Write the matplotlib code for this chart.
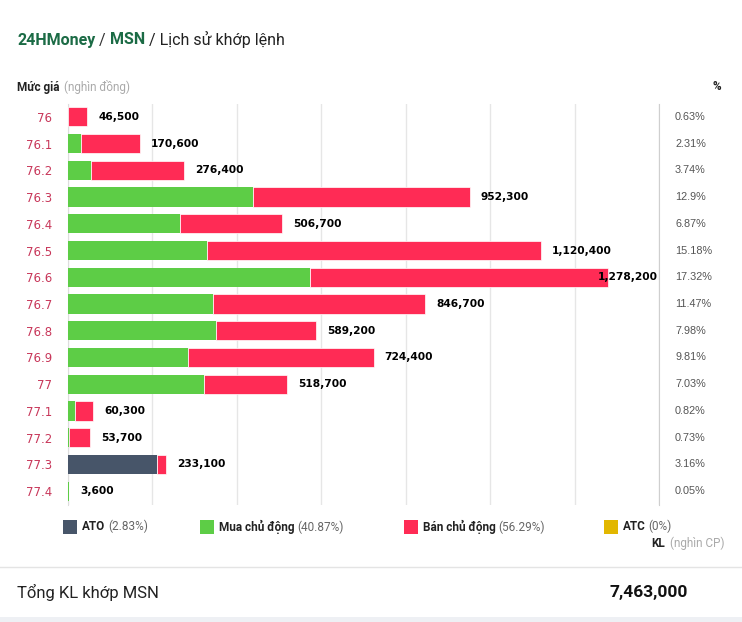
import matplotlib
matplotlib.use('Agg')
from matplotlib import pyplot as plt
from matplotlib.patches import Rectangle
from matplotlib.transforms import blended_transform_factory

# price levels (nghìn đồng) and matched volume split by side
prices = ['76', '76.1', '76.2', '76.3', '76.4', '76.5', '76.6', '76.7',
          '76.8', '76.9', '77', '77.1', '77.2', '77.3', '77.4']
totals = [46500, 170600, 276400, 952300, 506700, 1120400, 1278200, 846700,
          589200, 724400, 518700, 60300, 53700, 233100, 3600]
ato = [0, 0, 0, 0, 0, 0, 0, 0, 0, 0, 0, 0, 0, 211200, 0]
mua = [0, 31000, 56000, 438000, 267000, 331000, 575000, 345000,
       352000, 286000, 322000, 18000, 3000, 0, 3600]
ban = [t - m - a for t, m, a in zip(totals, mua, ato)]
pct_labels = ['0.63%', '2.31%', '3.74%', '12.9%', '6.87%', '15.18%', '17.32%',
              '11.47%', '7.98%', '9.81%', '7.03%', '0.82%', '0.73%', '3.16%', '0.05%']

legend_names = ['ATO', 'Mua chủ động', 'Bán chủ động', 'ATC']
legend_pcts = ['(2.83%)', '(40.87%)', '(56.29%)', '(0%)']
total_kl = 7463000

c_ato = '#475569'
c_mua = '#5dcd46'
c_ban = '#ff2b55'
c_atc = '#e2b700'
c_green = '#1b6b45'
c_price = '#c8375a'

W, H = 742, 622
fig = plt.figure(figsize=(W / 100, H / 100), dpi=100)
fig.patch.set_facecolor('white')


def fx(px):
    return px / W


def fy(py):
    return 1 - py / H


ax = fig.add_axes([fx(67.5), fy(504.5), (659 - 67.5) / W, 401 / H])
y = list(range(len(prices)))
h = 0.72
ax.barh(y, ato, height=h, color=c_ato, linewidth=0, zorder=3)
ax.barh(y, mua, left=ato, height=h, color=c_mua, linewidth=0, zorder=3)
left_ban = [a + m for a, m in zip(ato, mua)]
# white edge on the red part gives the thin gap between segments
ax.barh(y, ban, left=left_ban, height=h, color=c_ban, edgecolor='white', linewidth=0.5, zorder=3)

xmax = 1400000
ax.set_xlim(0, xmax)
ax.set_ylim(len(prices) - 0.5, -0.5)
ax.set_xticks(range(0, xmax + 1, 200000))
ax.tick_params(axis='x', length=0, labelbottom=False)
ax.grid(axis='x', color='#e6e6e6', linewidth=1, zorder=0)
ax.set_yticks(y)
ax.set_yticklabels(prices)
ax.tick_params(axis='y', length=0, pad=11, labelcolor=c_price, labelsize=8.5)
for s in ['top', 'bottom']:
    ax.spines[s].set_visible(False)
ax.spines['left'].set_color('#dddddd')
ax.spines['right'].set_color('#cfcfcf')

# total volume labels
for i, t in enumerate(totals):
    if t / xmax > 0.85:
        ax.annotate(f'{t:,}', xy=(xmax, i), xytext=(-1, 0), textcoords='offset points',
                    ha='right', va='center', fontsize=7.7, fontweight='bold', zorder=4)
    else:
        ax.annotate(f'{t:,}', xy=(t, i), xytext=(8, 0), textcoords='offset points',
                    ha='left', va='center', fontsize=7.7, fontweight='bold', zorder=4)

# percentage column
tr = blended_transform_factory(ax.transAxes, ax.transData)
for i, p in enumerate(pct_labels):
    ax.text((675 - 67.5) / 591.5, i, p, transform=tr, ha='left', va='center',
            fontsize=7.8, color='#555555', family='Liberation Sans')


def chain(prev, text, **kw):
    # place a text right after another one
    return ax.annotate(text, xy=(1, 0), xycoords=prev, xytext=(kw.pop('gap', 0), 0),
                       textcoords='offset points', ha='left', va='bottom',
                       annotation_clip=False, **kw)


# title
tf = 'Roboto'
t1 = fig.text(fx(17), fy(40), '24HMoney', fontsize=11.5, fontweight='bold',
              color=c_green, family=tf, va='center')
t2 = chain(t1, ' / ', fontsize=11.5, color='#333333', family=tf)
t3 = chain(t2, 'MSN', fontsize=11.5, fontweight='bold', color=c_green, family=tf)
chain(t3, ' / Lịch sử khớp lệnh', fontsize=11.5, color='#222222', family=tf)

# header
h1 = fig.text(fx(17), fy(87), 'Mức giá', fontsize=8.5, fontweight='bold',
              color='#222222', family=tf, va='center')
chain(h1, '(nghìn đồng)', gap=3, fontsize=8.5, color='#aaaaaa', family=tf)
fig.text(fx(717), fy(87), '%', fontsize=8.5, fontweight='bold', color='#222222',
         family=tf, va='center', ha='center')

# legend
leg_colors = [c_ato, c_mua, c_ban, c_atc]
leg_x = [63, 200, 404, 604]
for name, pct, col, lx in zip(legend_names, legend_pcts, leg_colors, leg_x):
    fig.add_artist(Rectangle((fx(lx), fy(534)), 14 / W, 14 / H, transform=fig.transFigure,
                             color=col, lw=0))
    lt = fig.text(fx(lx + 19), fy(527), name, fontsize=8.5, fontweight='bold',
                  color='#222222', family=tf, va='center')
    chain(lt, pct, gap=2, fontsize=8.5, color='#666666', family=tf)

kl2 = fig.text(fx(724), fy(543), '(nghìn CP)', fontsize=8.5, color='#aaaaaa',
               family=tf, va='center', ha='right')
ax.annotate('KL', xy=(0, 0), xycoords=kl2, xytext=(-3, 0), textcoords='offset points',
            ha='right', va='bottom', fontsize=8.5, fontweight='bold', color='#222222',
            family=tf, annotation_clip=False)

# footer
fig.add_artist(plt.Line2D([0, 1], [fy(567), fy(567)], transform=fig.transFigure,
                          color='#e4e4e4', lw=1))
fig.add_artist(Rectangle((0, 0), 1, 5 / H, transform=fig.transFigure,
                         color='#eef0f4', lw=0))
fig.text(fx(17), fy(592), 'Tổng KL khớp MSN', fontsize=12, color='#222222',
         family=tf, va='center')
fig.text(fx(688), fy(592), f'{total_kl:,}', fontsize=12.5, fontweight='bold',
         color='#111111', family=tf, va='center', ha='right')

fig.savefig('out.png', dpi=100)
